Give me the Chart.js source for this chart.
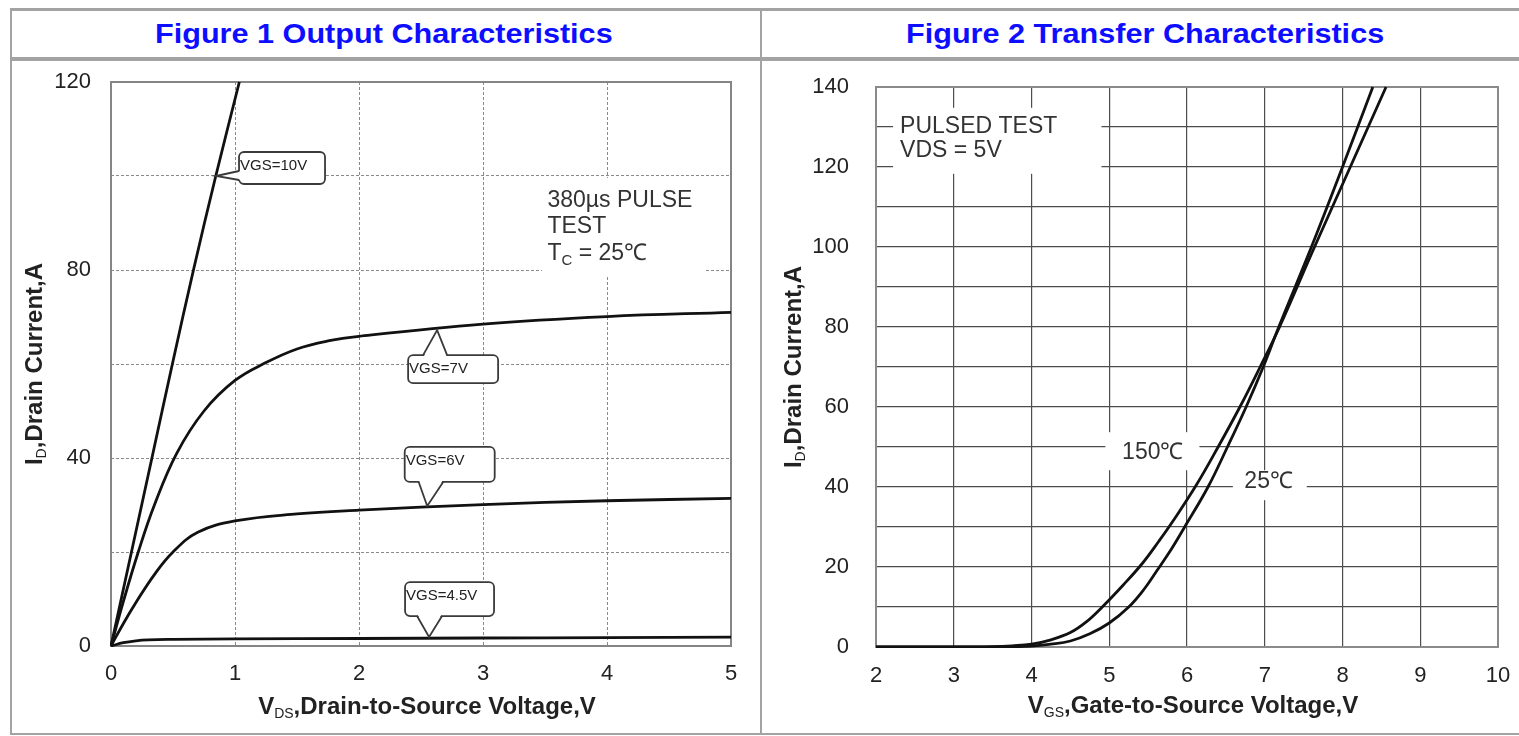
<!DOCTYPE html>
<html>
<head>
<meta charset="utf-8">
<script src="https://cdn.jsdelivr.net/npm/chart.js@4.4.1/dist/chart.umd.min.js"></script>
<style>
body { margin: 0; background: #fff; }
#page { position: relative; width: 1519px; height: 736px; overflow: hidden; background: #fff;
        font-family: "Liberation Sans", Arial, sans-serif; }
.rule { position: absolute; background: #a3a3a3; }
.fig-title { position: absolute; top: 21px; font-size: 27px; line-height: 27px; font-weight: bold;
             color: #0d0dff; white-space: nowrap; transform: scaleX(1.134); transform-origin: 0 0; }
.box { position: absolute; }
</style>
</head>
<body>
<div id="page">
  <div class="rule" style="left:10px;top:8px;width:1509px;height:3px"></div>
  <div class="rule" style="left:10px;top:57px;width:1509px;height:4px"></div>
  <div class="rule" style="left:10px;top:8px;width:2px;height:727px"></div>
  <div class="rule" style="left:760px;top:8px;width:2px;height:727px"></div>
  <div class="rule" style="left:10px;top:733px;width:1509px;height:2px"></div>
  <div class="fig-title" style="left:155px">Figure 1 Output Characteristics</div>
  <div class="fig-title" style="left:906px">Figure 2 Transfer Characteristics</div>
  <div class="box" style="left:12px;top:61px;width:748px;height:672px"><canvas id="outChart"></canvas></div>
  <div class="box" style="left:762px;top:61px;width:757px;height:672px"><canvas id="transChart"></canvas></div>
</div>
<script>
// Figure 1: drain current (A) against V_DS (V), one pair per gate voltage
const vds10 = [0, 0.165, 0.33, 0.495, 0.665, 0.845, 1.035];
const id10  = [0, 20, 40, 60, 80, 100, 120];
const vds7  = [0, 0.1, 0.22, 0.35, 0.53, 0.75, 1.0, 1.25, 1.5, 1.75, 2.0, 3.0, 4.0, 5.0];
const id7   = [0, 9.5, 20, 30, 41, 50, 56.5, 60.3, 63.2, 64.9, 65.9, 68.5, 70.1, 71.0];
const vds6  = [0, 0.1, 0.2, 0.35, 0.5, 0.7, 1.0, 1.5, 2.0, 3.0, 4.0, 5.0];
const id6   = [0, 4.8, 9.2, 15.2, 20, 24.2, 26.6, 28.1, 28.9, 30.1, 30.9, 31.4];
const vds45 = [0, 0.1, 0.2, 0.3, 0.5, 1.0, 2.0, 3.0, 4.0, 5.0];
const id45  = [0, 0.7, 1.1, 1.3, 1.4, 1.5, 1.6, 1.7, 1.8, 1.9];
const outYTicks = [0, 40, 80, 120];

// callout labels and the curve point each one points at
const calloutLabels = ['VGS=10V', 'VGS=7V', 'VGS=6V', 'VGS=4.5V'];
const calloutVds = [0.847, 2.63, 2.55, 2.565];
const calloutId  = [100, 67.2, 29.8, 1.9];

// Figure 2: drain current (A) against V_GS (V) at two temperatures
const vgs25  = [2, 3, 3.5, 3.8, 4, 4.25, 4.5, 4.75, 5, 5.25, 5.45, 5.61, 5.8, 5.97, 6.27, 6.52, 6.76, 6.98, 7.18, 7.6, 8.0, 8.39];
const id25   = [0, 0, 0.02, 0.1, 0.25, 0.7, 1.5, 3.3, 6.0, 10, 14.5, 19, 24.5, 30, 40, 50, 60, 70, 80, 100, 120, 140];
const vgs150 = [2, 3, 3.5, 3.75, 4, 4.25, 4.5, 4.7, 4.91, 5.18, 5.43, 5.64, 5.82, 6.12, 6.4, 6.68, 6.94, 7.19, 7.64, 8.1, 8.56];
const id150  = [0, 0, 0.1, 0.3, 0.7, 1.8, 3.6, 6.2, 10, 15.5, 21, 26.5, 31.5, 40.5, 50, 60, 70, 80, 100, 120, 140];
const transYTicks = [0, 20, 40, 60, 80, 100, 120, 140];

const FONT = '"Liberation Sans", Arial, sans-serif';

function pts(xs, ys) {
  return xs.map((v, i) => ({x: v, y: ys[i]}));
}

function setFont(ctx, size, weight) {
  ctx.font = (weight || 'normal') + ' ' + size + 'px ' + FONT;
}

// parts: [text, size, weight, baseline shift]
function richWidth(ctx, parts) {
  let w = 0;
  parts.forEach(p => { setFont(ctx, p[1], p[2]); w += ctx.measureText(p[0]).width; });
  return w;
}

function drawRich(ctx, parts, x, y, align) {
  let cx = align === 'center' ? x - richWidth(ctx, parts) / 2 : x;
  ctx.textAlign = 'left';
  ctx.textBaseline = 'alphabetic';
  parts.forEach(p => {
    setFont(ctx, p[1], p[2]);
    ctx.fillText(p[0], cx, y + (p[3] || 0));
    cx += ctx.measureText(p[0]).width;
  });
}

function roundRectPath(ctx, l, t, w, h, r) {
  ctx.beginPath();
  ctx.moveTo(l + r, t);
  ctx.lineTo(l + w - r, t);
  ctx.arcTo(l + w, t, l + w, t + r, r);
  ctx.lineTo(l + w, t + h - r);
  ctx.arcTo(l + w, t + h, l + w - r, t + h, r);
  ctx.lineTo(l + r, t + h);
  ctx.arcTo(l, t + h, l, t + h - r, r);
  ctx.lineTo(l, t + r);
  ctx.arcTo(l, t, l + r, t, r);
  ctx.closePath();
}

function drawCallout(ctx, tx, ty, c, label) {
  const L = tx + c.dx, T = ty + c.dy;
  roundRectPath(ctx, L, T, c.w, c.h, 5);
  ctx.fillStyle = '#fff';
  ctx.fill();
  ctx.strokeStyle = '#3a3a3a';
  ctx.lineWidth = 1.8;
  ctx.stroke();

  let b1, b2, sh;
  if (c.side === 'left') { b1 = [L, ty + c.p[0]]; b2 = [L, ty + c.p[1]]; sh = [2.5, 0]; }
  else if (c.side === 'top') { b1 = [tx + c.p[0], T]; b2 = [tx + c.p[1], T]; sh = [0, 2.5]; }
  else { b1 = [tx + c.p[0], T + c.h]; b2 = [tx + c.p[1], T + c.h]; sh = [0, -2.5]; }
  ctx.beginPath();
  ctx.moveTo(b1[0] + sh[0], b1[1] + sh[1]);
  ctx.lineTo(tx, ty);
  ctx.lineTo(b2[0] + sh[0], b2[1] + sh[1]);
  ctx.closePath();
  ctx.fill();
  ctx.beginPath();
  ctx.moveTo(b1[0], b1[1]);
  ctx.lineTo(tx, ty);
  ctx.lineTo(b2[0], b2[1]);
  ctx.stroke();

  ctx.fillStyle = '#222';
  setFont(ctx, 15);
  ctx.textAlign = 'left';
  ctx.textBaseline = 'middle';
  ctx.fillText(label, L + 1, T + 14);
}

const sheet = {
  id: 'sheet',
  beforeDatasetsDraw(chart, args, o) {
    const {ctx, chartArea: a, scales: {x, y}} = chart;
    ctx.save();
    ctx.fillStyle = '#fff';
    o.masks.forEach(m => {
      const l = x.getPixelForValue(m[0]), r = x.getPixelForValue(m[1]);
      const t = y.getPixelForValue(m[2]), b = y.getPixelForValue(m[3]);
      ctx.fillRect(l, t, r - l, b - t);
    });
    ctx.fillStyle = '#333';
    o.notes.forEach(n => drawRich(ctx, n.parts, x.getPixelForValue(n.x), y.getPixelForValue(n.y), n.align));
    ctx.strokeStyle = o.frameColor;
    ctx.lineWidth = 2;
    ctx.strokeRect(a.left, a.top, a.width, a.height);
    ctx.restore();
  },
  afterDatasetsDraw(chart, args, o) {
    if (!o.callouts) return;
    const {ctx, scales: {x, y}} = chart;
    ctx.save();
    o.callouts.forEach((c, i) => {
      drawCallout(ctx, x.getPixelForValue(calloutVds[i]), y.getPixelForValue(calloutId[i]), c, calloutLabels[i]);
    });
    ctx.restore();
  },
  afterDraw(chart, args, o) {
    const {ctx, chartArea: a} = chart;
    ctx.save();
    ctx.fillStyle = '#222';
    drawRich(ctx, o.xTitle, (a.left + a.right) / 2 + 6, a.bottom + o.xTitleGap, 'center');
    ctx.translate(a.left - o.yTitleGap, (a.top + a.bottom) / 2);
    ctx.rotate(-Math.PI / 2);
    drawRich(ctx, o.yTitle, 0, 0, 'center');
    ctx.restore();
  }
};

const curve = {
  borderColor: '#111', borderWidth: 2.8, pointRadius: 0, fill: false,
  tension: 0.4, clip: 1
};
const tickFont = {size: 22, family: FONT};

new Chart(document.getElementById('outChart'), {
  type: 'line',
  data: {
    datasets: [
      {label: 'VGS=10V', data: pts(vds10, id10), ...curve},
      {label: 'VGS=7V', data: pts(vds7, id7), ...curve},
      {label: 'VGS=6V', data: pts(vds6, id6), ...curve},
      {label: 'VGS=4.5V', data: pts(vds45, id45), ...curve}
    ]
  },
  options: {
    responsive: true,
    maintainAspectRatio: false,
    animation: false,
    layout: {padding: {left: 0, top: 21, right: 29, bottom: 0}},
    plugins: {
      legend: {display: false},
      tooltip: {enabled: false},
      sheet: {
        frameColor: '#858585',
        masks: [[3.476, 4.79, 99.6, 78.7]],
        notes: [
          {x: 3.52, y: 93.4, parts: [['380µs PULSE', 23]]},
          {x: 3.52, y: 87.9, parts: [['TEST', 23]]},
          {x: 3.52, y: 82.1, parts: [['T', 23], ['C', 15, 'normal', 5], [' = 25℃', 23]]}
        ],
        callouts: [
          {dx: 23, dy: -24, w: 86, h: 32, side: 'left', p: [-5, 4]},
          {dx: -29, dy: 25, w: 90, h: 28, side: 'top', p: [-14, 10]},
          {dx: -22.5, dy: -59, w: 90, h: 35, side: 'bottom', p: [-8.5, 16]},
          {dx: -24, dy: -55, w: 89, h: 34, side: 'bottom', p: [-12, 13]}
        ],
        xTitle: [['V', 24, 'bold'], ['DS', 14, 'normal', 4], [',Drain-to-Source Voltage,V', 24, 'bold']],
        xTitleGap: 68,
        yTitle: [['I', 24, 'bold'], ['D', 14, 'normal', 4], [',Drain Current,A', 24, 'bold']],
        yTitleGap: 69
      }
    },
    scales: {
      x: {
        type: 'linear', min: 0, max: 5,
        afterFit: s => { s.height = 87; s.paddingLeft = 0; s.paddingRight = 0; },
        ticks: {stepSize: 1, color: '#222', font: tickFont, padding: 15, maxRotation: 0},
        grid: {color: '#8a8a8a', lineWidth: 1, drawTicks: false},
        border: {display: false, dash: [3, 2]}
      },
      y: {
        min: 0, max: 120,
        afterFit: s => { s.width = 99; s.paddingTop = 0; s.paddingBottom = 0; },
        ticks: {stepSize: 20, color: '#222', font: tickFont, padding: 20,
                callback: v => outYTicks.includes(v) ? v : ''},
        grid: {color: '#8a8a8a', lineWidth: 1, drawTicks: false},
        border: {display: false, dash: [3, 2]}
      }
    }
  },
  plugins: [sheet]
});

new Chart(document.getElementById('transChart'), {
  type: 'line',
  data: {
    datasets: [
      {label: '25℃', data: pts(vgs25, id25), ...curve},
      {label: '150℃', data: pts(vgs150, id150), ...curve}
    ]
  },
  options: {
    responsive: true,
    maintainAspectRatio: false,
    animation: false,
    layout: {padding: {left: 0, top: 26, right: 21, bottom: 0}},
    plugins: {
      legend: {display: false},
      tooltip: {enabled: false},
      sheet: {
        frameColor: '#8a8a8a',
        masks: [[2.22, 4.9, 134.8, 118.3], [4.95, 6.16, 53.7, 44.2], [6.59, 7.54, 44.2, 36.7]],
        notes: [
          {x: 2.31, y: 128.6, parts: [['PULSED TEST', 23]]},
          {x: 2.31, y: 122.4, parts: [['VDS = 5V', 23]]},
          {x: 5.56, y: 47.1, align: 'center', parts: [['150℃', 23]]},
          {x: 7.05, y: 39.7, align: 'center', parts: [['25℃', 23]]}
        ],
        xTitle: [['V', 24, 'bold'], ['GS', 14, 'normal', 4], [',Gate-to-Source Voltage,V', 24, 'bold']],
        xTitleGap: 66,
        yTitle: [['I', 24, 'bold'], ['D', 14, 'normal', 4], [',Drain Current,A', 24, 'bold']],
        yTitleGap: 75
      }
    },
    scales: {
      x: {
        type: 'linear', min: 2, max: 10,
        afterFit: s => { s.height = 86; s.paddingLeft = 0; s.paddingRight = 0; },
        ticks: {stepSize: 1, color: '#222', font: tickFont, padding: 16, maxRotation: 0},
        grid: {color: '#4d4d4d', lineWidth: 1.2, drawTicks: false},
        border: {display: false}
      },
      y: {
        min: 0, max: 140,
        afterFit: s => { s.width = 114; s.paddingTop = 0; s.paddingBottom = 0; },
        ticks: {stepSize: 10, color: '#222', font: tickFont, padding: 27,
                callback: v => transYTicks.includes(v) ? v : ''},
        grid: {color: '#4d4d4d', lineWidth: 1.2, drawTicks: false},
        border: {display: false}
      }
    }
  },
  plugins: [sheet]
});
</script>
</body>
</html>
